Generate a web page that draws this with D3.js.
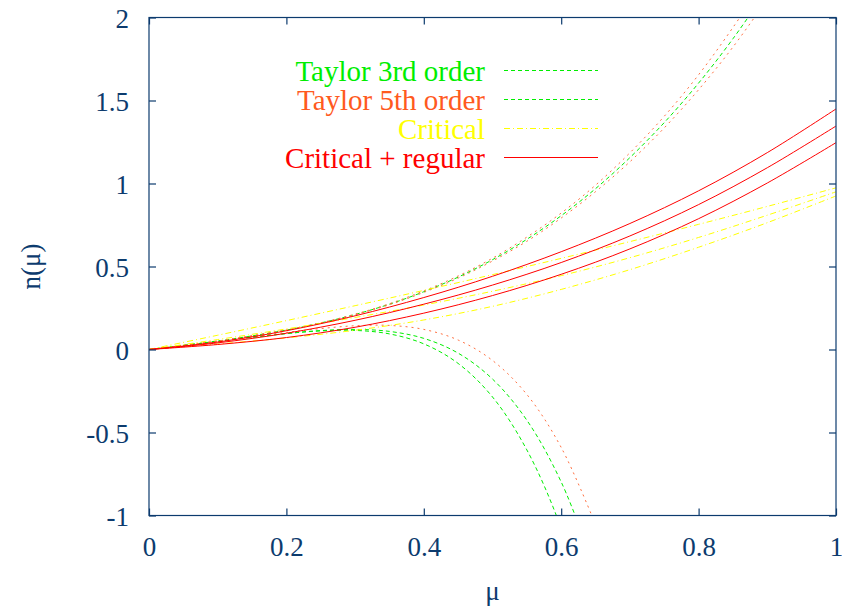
<!DOCTYPE html>
<meta charset="utf-8">
<style>
body { margin: 0; background: #fff; }
.axis text { font-size: 27px; fill: #0c3b6e; }
.axis line { stroke: #0c3b6e; stroke-width: 1.2px; }
.axis path { display: none; }
.frame { fill: none; stroke: #0c3b6e; stroke-width: 1.2px; }
.curve { fill: none; stroke-width: 1px; }
.leg text { font-size: 29px; text-anchor: end; }
</style>
<body>
<svg width="842" height="612"></svg>
<script src="https://d3js.org/d3.v7.min.js"></script>
<script>
// values
var xTicks = [0, 0.2, 0.4, 0.6, 0.8, 1];
var xTickLabels = ["0", "0.2", "0.4", "0.6", "0.8", "1"];
var yTicks = [-1, -0.5, 0, 0.5, 1, 1.5, 2];
var yTickLabels = ["-1", "-0.5", "0", "0.5", "1", "1.5", "2"];

var muGrid = [0, 0.1, 0.2, 0.3, 0.4, 0.5, 0.6, 0.7, 0.8, 0.9, 1.0];
var critical1 = [0, 0.086, 0.174, 0.264, 0.356, 0.451, 0.549, 0.65, 0.754, 0.862, 0.974];
var critical2 = [0, 0.06, 0.124, 0.193, 0.268, 0.351, 0.445, 0.553, 0.675, 0.809, 0.95];
var critical3 = [0, 0.033, 0.07, 0.116, 0.178, 0.26, 0.362, 0.481, 0.616, 0.764, 0.925];
var regular1 = [0, 0.045, 0.113, 0.203, 0.313, 0.441, 0.589, 0.759, 0.956, 1.186, 1.449];
var regular2 = [0, 0.04, 0.098, 0.176, 0.273, 0.388, 0.524, 0.684, 0.873, 1.095, 1.346];
var regular3 = [0, 0.03, 0.072, 0.134, 0.219, 0.325, 0.453, 0.606, 0.788, 1.003, 1.246];

var muTaylor = [0, 0.1, 0.2, 0.25, 0.3, 0.35, 0.4, 0.45, 0.5, 0.55, 0.6, 0.65, 0.7, 0.75, 0.8, 0.85, 0.9];
var taylor3Up = [0, 0.051, 0.117, 0.16, 0.211, 0.273, 0.348, 0.436, 0.541, 0.664, 0.806, 0.969, 1.156, 1.367, 1.605, 1.872, 2.169];
var taylor3DownA = [0, 0.049, 0.096, 0.112, 0.115, 0.094, 0.034, -0.084, -0.286, -0.605, -1.077, -1.753, null, null, null, null, null];
var taylor3DownB = [0, 0.049, 0.096, 0.114, 0.121, 0.109, 0.067, -0.022, -0.178, -0.426, -0.798, -1.33, null, null, null, null, null];
var taylor5UpA = [0, 0.051, 0.118, 0.161, 0.213, 0.276, 0.353, 0.443, 0.55, 0.677, 0.822, 0.99, 1.185, 1.405, 1.655, 1.94, 2.25];
var taylor5UpB = [0, 0.051, 0.116, 0.159, 0.209, 0.27, 0.344, 0.43, 0.533, 0.652, 0.792, 0.951, 1.131, 1.335, 1.565, 1.822, 2.11];
var taylor5Down = [0, 0.05, 0.103, 0.126, 0.143, 0.145, 0.121, 0.057, -0.066, -0.271, -0.59, -1.055, null, null, null, null, null];

var legendLabels = ["Taylor 3rd order", "Taylor 5th order", "Critical", "Critical + regular"];

var serif = "'Liberation Serif', 'DejaVu Serif', serif";

var svg = d3.select("svg"),
    plotLeft = 149, plotRight = 836, plotTop = 17.5, plotBottom = 515.5;

var x = d3.scaleLinear().domain([0, 1]).range([plotLeft, plotRight]);
var y = d3.scaleLinear().domain([-1, 2]).range([plotBottom, plotTop]);

var styles = {
  t3:  {stroke: "#00ee00", dash: "4,3"},
  t5:  {stroke: "#ff7040", dash: "2,4"},
  cr:  {stroke: "#ffff00", dash: "6,3,1,3"},
  reg: {stroke: "#ff0000", dash: "none"}
};

svg.append("defs").append("clipPath").attr("id", "plot")
  .append("rect").attr("x", plotLeft).attr("y", plotTop)
  .attr("width", plotRight - plotLeft).attr("height", plotBottom - plotTop);

var line = d3.line()
    .defined(function(d) { return d[1] != null; })
    .x(function(d) { return x(d[0]); })
    .y(function(d) { return y(d[1]); })
    .curve(d3.curveCatmullRom.alpha(0.5));

function pairs(xs, ys) { return xs.map(function(v, i) { return [v, ys[i]]; }); }

var series = [
  {s: "t3", d: pairs(muTaylor, taylor3Up)},
  {s: "t3", d: pairs(muTaylor, taylor3DownA)},
  {s: "t3", d: pairs(muTaylor, taylor3DownB)},
  {s: "t5", d: pairs(muTaylor, taylor5UpA)},
  {s: "t5", d: pairs(muTaylor, taylor5UpB)},
  {s: "t5", d: pairs(muTaylor, taylor5Down)},
  {s: "cr", d: pairs(muGrid, critical1)},
  {s: "cr", d: pairs(muGrid, critical2)},
  {s: "cr", d: pairs(muGrid, critical3)},
  {s: "reg", d: pairs(muGrid, regular1)},
  {s: "reg", d: pairs(muGrid, regular2)},
  {s: "reg", d: pairs(muGrid, regular3)}
];

var g = svg.append("g").attr("clip-path", "url(#plot)");
g.selectAll(".curve")
    .data(series)
  .enter().append("path")
    .attr("class", "curve")
    .attr("d", function(d) { return line(d.d); })
    .style("stroke", function(d) { return styles[d.s].stroke; })
    .style("stroke-dasharray", function(d) { return styles[d.s].dash; });

// axes, ticks inward on all four sides
svg.append("g").attr("class", "axis")
    .attr("transform", "translate(0," + plotBottom + ")")
    .call(d3.axisBottom(x).tickValues(xTicks).tickSize(-7).tickSizeOuter(0)
      .tickFormat(function(d, i) { return xTickLabels[i]; }))
  .selectAll("text").attr("y", 40).attr("dy", null).style("font-family", serif);

svg.append("g").attr("class", "axis")
    .attr("transform", "translate(0," + plotTop + ")")
    .call(d3.axisTop(x).tickValues(xTicks).tickSize(-7).tickSizeOuter(0).tickFormat(""));

svg.append("g").attr("class", "axis")
    .attr("transform", "translate(" + plotLeft + ",0)")
    .call(d3.axisLeft(y).tickValues(yTicks).tickSize(-7).tickSizeOuter(0).tickPadding(20)
      .tickFormat(function(d, i) { return yTickLabels[i]; }))
  .selectAll("text").attr("dy", "0.36em").style("font-family", serif);

svg.append("g").attr("class", "axis")
    .attr("transform", "translate(" + plotRight + ",0)")
    .call(d3.axisRight(y).tickValues(yTicks).tickSize(-7).tickSizeOuter(0).tickFormat(""));

svg.append("rect").attr("class", "frame")
  .attr("x", plotLeft).attr("y", plotTop)
  .attr("width", plotRight - plotLeft).attr("height", plotBottom - plotTop);

svg.append("text")
  .attr("x", (plotLeft + plotRight) / 2).attr("y", 600)
  .attr("text-anchor", "middle")
  .style("font-family", serif)
  .style("font-size", "27px").style("fill", "#0c3b6e")
  .text("μ");

svg.append("text")
  .attr("transform", "translate(40," + (plotTop + plotBottom) / 2 + ") rotate(-90)")
  .attr("text-anchor", "middle")
  .style("font-family", serif)
  .style("font-size", "27px").style("fill", "#0c3b6e")
  .text("n(μ)");

// legend (the 5th order sample is green dashed in the original)
var legendText = ["#00ee00", "#ff5a1e", "#ffff00", "#ff0000"];
var legendLine = [styles.t3, styles.t3, styles.cr, styles.reg];
var leg = svg.append("g").attr("class", "leg");
legendLabels.forEach(function(lbl, i) {
  leg.append("text").attr("x", 485).attr("y", 81 + 29 * i)
    .style("font-family", serif)
    .style("fill", legendText[i]).text(lbl);
  leg.append("line")
    .attr("x1", 504).attr("x2", 598)
    .attr("y1", 70.5 + 29 * i).attr("y2", 70.5 + 29 * i)
    .style("stroke", legendLine[i].stroke)
    .style("stroke-dasharray", legendLine[i].dash);
});
</script>
</body>
</html>
